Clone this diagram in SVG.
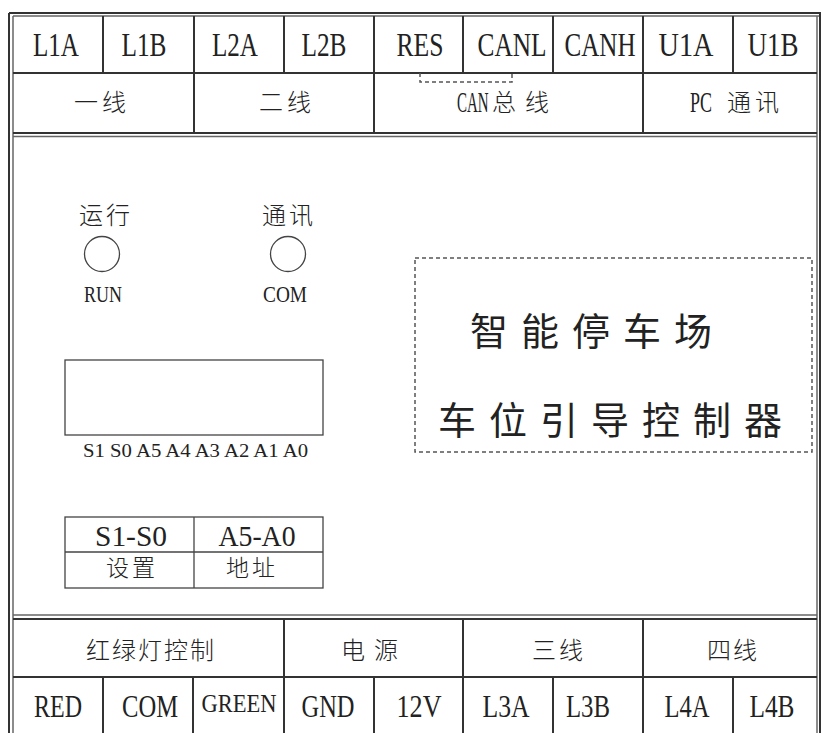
<svg xmlns="http://www.w3.org/2000/svg" width="821" height="733" viewBox="0 0 821 733">
<style>
.bg{fill:#fff}
.ln{stroke:#333;stroke-width:2;fill:none}
.ln2{stroke:#666;stroke-width:1.5;fill:none}
.thin{stroke:#444;stroke-width:1.3;fill:none}
.lat{font-family:"Liberation Serif",serif;fill:#222;text-anchor:middle}
.lats{font-family:"Liberation Serif",serif;fill:#222}
.cjk{font-family:"Noto Sans CJK SC","Noto Sans",sans-serif;fill:#222;font-weight:300}
.big{font-size:38px;letter-spacing:13px;font-weight:400}
.dash{stroke:#555;stroke-width:1.5;stroke-dasharray:4 3;fill:none}
</style>
<rect class="bg" width="821" height="733"/>
<g id="frame">
<line class="ln" x1="9" y1="13" x2="9" y2="733"/>
<line class="ln2" x1="13" y1="16" x2="13" y2="733"/>
<line class="ln" x1="9" y1="13" x2="821" y2="13"/>
<line class="ln2" x1="13" y1="16" x2="821" y2="16"/>
<line class="ln2" x1="817" y1="16" x2="817" y2="733"/>
<line class="ln" x1="820" y1="13" x2="820" y2="733"/>
</g>
<g id="grid">
<line class="ln" x1="13" y1="73" x2="817" y2="73"/>
<line class="ln" x1="103" y1="16" x2="103" y2="73"/>
<line class="ln" x1="194" y1="16" x2="194" y2="133"/>
<line class="ln" x1="284" y1="16" x2="284" y2="73"/>
<line class="ln" x1="374" y1="16" x2="374" y2="133"/>
<line class="ln" x1="463" y1="16" x2="463" y2="73"/>
<line class="ln" x1="553" y1="16" x2="553" y2="73"/>
<line class="ln" x1="643" y1="16" x2="643" y2="133"/>
<line class="ln" x1="733" y1="16" x2="733" y2="73"/>
<line class="ln" x1="13" y1="133" x2="817" y2="133"/>
<line class="ln2" x1="13" y1="136.5" x2="817" y2="136.5"/>
<line class="ln2" x1="13" y1="615" x2="817" y2="615"/>
<line class="ln" x1="13" y1="619" x2="817" y2="619"/>
<line class="ln" x1="13" y1="677" x2="817" y2="677"/>
<line class="ln" x1="284" y1="619" x2="284" y2="733"/>
<line class="ln" x1="463" y1="619" x2="463" y2="733"/>
<line class="ln" x1="643" y1="619" x2="643" y2="733"/>
<line class="ln" x1="103" y1="677" x2="103" y2="733"/>
<line class="ln" x1="193" y1="677" x2="193" y2="733"/>
<line class="ln" x1="374" y1="677" x2="374" y2="733"/>
<line class="ln" x1="553" y1="677" x2="553" y2="733"/>
<line class="ln" x1="733" y1="677" x2="733" y2="733"/>
</g>
<g id="top-terminals" font-size="34">
<g id="t-L1A"><text class="lat" x="56" y="56" textLength="46" lengthAdjust="spacingAndGlyphs">L1A</text></g>
<g id="t-L1B"><text class="lat" x="144" y="56" textLength="45" lengthAdjust="spacingAndGlyphs">L1B</text></g>
<g id="t-L2A"><text class="lat" x="235" y="56" textLength="46" lengthAdjust="spacingAndGlyphs">L2A</text></g>
<g id="t-L2B"><text class="lat" x="324" y="56" textLength="45" lengthAdjust="spacingAndGlyphs">L2B</text></g>
<g id="t-RES"><text class="lat" x="420" y="56" textLength="47" lengthAdjust="spacingAndGlyphs">RES</text></g>
<g id="t-CANL"><text class="lat" x="512" y="56" textLength="69" lengthAdjust="spacingAndGlyphs">CANL</text></g>
<g id="t-CANH"><text class="lat" x="600" y="56" textLength="71" lengthAdjust="spacingAndGlyphs">CANH</text></g>
<g id="t-U1A"><text class="lat" x="686" y="56" textLength="55" lengthAdjust="spacingAndGlyphs">U1A</text></g>
<g id="t-U1B"><text class="lat" x="773" y="56" textLength="51" lengthAdjust="spacingAndGlyphs">U1B</text></g>
</g>
<g id="top-groups" font-size="24">
<g id="g-line1"><text class="cjk" x="74" y="111" letter-spacing="4">一线</text></g>
<g id="g-line2"><text class="cjk" x="259" y="111" letter-spacing="4">二线</text></g>
<g id="g-can">
<text class="lats" transform="translate(457 112) scale(0.5 1)" font-size="30">CAN</text>
<text class="cjk" x="492" y="111" letter-spacing="9">总线</text>
</g>
<g id="g-pc">
<text class="lats" transform="translate(690 112) scale(0.6 1)" font-size="30">PC</text>
<text class="cjk" x="727" y="111" letter-spacing="4">通讯</text>
</g>
</g>
<g id="connectors">
<path class="dash" d="M420 73 V82 H512 V73"/>
</g>
<g id="led-run">
<text class="cjk" x="79" y="224" font-size="24" letter-spacing="3">运行</text>
<circle class="thin" cx="102" cy="254" r="17.5"/>
<text class="lat" x="103" y="302" font-size="23" textLength="38" lengthAdjust="spacingAndGlyphs">RUN</text>
</g>
<g id="led-com">
<text class="cjk" x="262" y="224" font-size="24" letter-spacing="3">通讯</text>
<circle class="thin" cx="288" cy="254" r="17.5"/>
<text class="lat" x="285" y="302" font-size="23" textLength="44" lengthAdjust="spacingAndGlyphs">COM</text>
</g>
<g id="dip-switch">
<rect class="thin" x="65" y="360" width="258" height="75"/>
<text class="lat" x="195.5" y="457" font-size="19" textLength="225" lengthAdjust="spacingAndGlyphs">S1 S0 A5 A4 A3 A2 A1 A0</text>
</g>
<g id="dip-table">
<rect class="thin" x="65" y="517" width="258" height="71"/>
<line class="thin" x1="65" y1="552" x2="323" y2="552"/>
<line class="thin" x1="194" y1="517" x2="194" y2="588"/>
<text class="lat" x="131" y="546" font-size="30" textLength="72" lengthAdjust="spacingAndGlyphs">S1-S0</text>
<text class="lat" x="257" y="546" font-size="30" textLength="77" lengthAdjust="spacingAndGlyphs">A5-A0</text>
<text class="cjk" x="106" y="576" font-size="23" letter-spacing="3">设置</text>
<text class="cjk" x="226" y="576" font-size="23" letter-spacing="3">地址</text>
</g>
<g id="title">
<rect class="dash" x="415" y="258" width="397" height="194"/>
<text class="cjk big" x="470" y="345">智能停车场</text>
<text class="cjk big" x="438" y="434">车位引导控制器</text>
</g>
<g id="bottom-groups" font-size="24">
<g id="g-light"><text class="cjk" x="86" y="659" letter-spacing="2">红绿灯控制</text></g>
<g id="g-power"><text class="cjk" x="341" y="659" letter-spacing="9">电源</text></g>
<g id="g-line3"><text class="cjk" x="532" y="659" letter-spacing="3">三线</text></g>
<g id="g-line4"><text class="cjk" x="707" y="659" letter-spacing="2">四线</text></g>
</g>
<g id="bottom-terminals" font-size="32">
<g id="b-RED"><text class="lat" x="58" y="717" textLength="48" lengthAdjust="spacingAndGlyphs">RED</text></g>
<g id="b-COM"><text class="lat" x="150" y="717" textLength="56" lengthAdjust="spacingAndGlyphs">COM</text></g>
<g id="b-GREEN"><text class="lat" x="239" y="712" font-size="25" textLength="75" lengthAdjust="spacingAndGlyphs">GREEN</text></g>
<g id="b-GND"><text class="lat" x="328" y="717" textLength="53" lengthAdjust="spacingAndGlyphs">GND</text></g>
<g id="b-12V"><text class="lat" x="419" y="717" textLength="45" lengthAdjust="spacingAndGlyphs">12V</text></g>
<g id="b-L3A"><text class="lat" x="506" y="717" textLength="47" lengthAdjust="spacingAndGlyphs">L3A</text></g>
<g id="b-L3B"><text class="lat" x="588" y="717" textLength="44" lengthAdjust="spacingAndGlyphs">L3B</text></g>
<g id="b-L4A"><text class="lat" x="687" y="717" textLength="45" lengthAdjust="spacingAndGlyphs">L4A</text></g>
<g id="b-L4B"><text class="lat" x="772" y="717" textLength="45" lengthAdjust="spacingAndGlyphs">L4B</text></g>
</g>
</svg>
